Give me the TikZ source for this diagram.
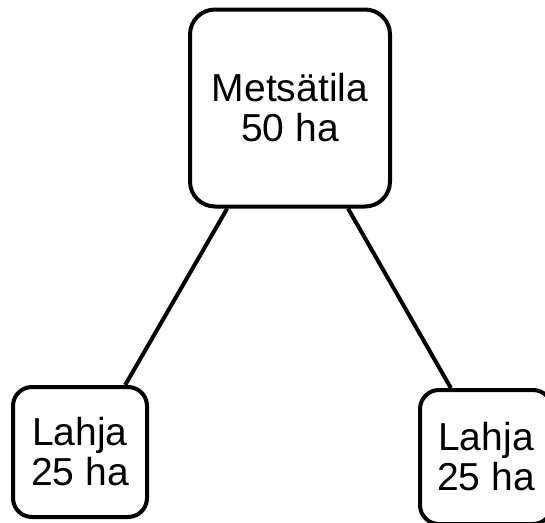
\documentclass[tikz,border=0pt]{standalone}
\usepackage{fontspec}
\setmainfont{Liberation Sans}

\begin{document}
\begin{tikzpicture}[x=1pt, y=-1pt,
    tila/.style={draw, line width=4pt, align=center, inner sep=0pt,
      font=\fontsize{39}{40}\selectfont}]
    \useasboundingbox (0,0) rectangle (545,522);
    \node[tila, rounded corners=25pt, minimum width=200pt, minimum height=197pt] (M) at (290,108) {Metsätila\\50 ha};
    \node[tila, rounded corners=19pt, minimum width=134pt, minimum height=130pt] (L) at (80,452) {Lahja\\25 ha};
    \node[tila, rounded corners=19pt, minimum width=132pt, minimum height=134pt] (R) at (486,457) {Lahja\\25 ha};
    % division lines
    \draw[line width=4pt] (M.-122) -- (L.56);
    \draw[line width=4pt] (M.-60) -- (R.117);
  \end{tikzpicture}
\end{document}
